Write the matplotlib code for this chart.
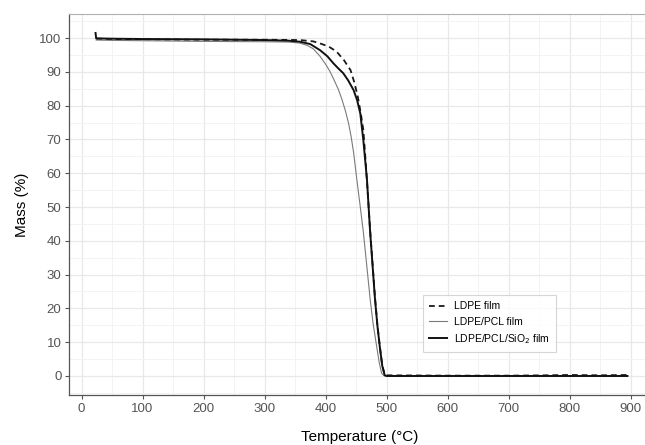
import numpy as np
import matplotlib
matplotlib.use("Agg")
import matplotlib.pyplot as plt
from matplotlib.ticker import MultipleLocator

plt.rcParams['font.family'] = ['Liberation Sans', 'DejaVu Sans']

# TGA curves: temperature (°C) vs residual mass (%)
ldpe_T = [24, 50, 100, 200, 300, 358, 380, 391, 405, 418, 430, 441, 447, 453,
          458, 462, 466, 470, 473, 477, 481, 485, 489, 493, 497, 500, 600, 700,
          760, 800, 850, 895]
ldpe_M = [99.8, 99.7, 99.6, 99.5, 99.5, 99.4, 99.0, 98.4, 97.5, 96.0, 93.5, 90.5,
          87.0, 82.6, 77.5, 72.8, 63.0, 52.0, 43.5, 33.5, 23.5, 15.2, 8.8, 3.2,
          0.4, 0.2, 0.1, 0.1, 0.2, 0.3, 0.2, 0.3]

pcl_T = [24, 50, 100, 200, 300, 340, 358, 370, 380, 391, 400, 407, 414, 421,
         427, 433, 438, 442, 446, 451, 457, 462, 468, 473, 478, 484, 488, 492,
         496, 500, 600, 700, 800, 895]
pcl_M = [99.4, 99.3, 99.2, 99.0, 98.9, 98.8, 98.5, 97.8, 96.8, 94.6, 92.3, 90.2,
         87.6, 84.8, 81.8, 78.2, 74.6, 70.8, 66.2, 58.6, 50.0, 42.6, 32.0, 23.0,
         15.5, 8.6, 4.0, 0.8, 0.1, 0.0, 0.0, 0.0, 0.0, 0.0]

sio2_T = [23, 24, 50, 100, 200, 300, 340, 358, 375, 391, 403, 413, 421, 429,
          437, 446, 452, 457, 462, 468, 473, 477, 481, 485, 489, 493, 497, 500,
          600, 700, 800, 895]
sio2_M = [101.5, 99.9, 99.8, 99.7, 99.6, 99.4, 99.2, 98.9, 98.2, 96.4, 94.6, 92.5,
          91.0, 89.6, 87.5, 84.6, 81.5, 77.7, 69.8, 58.0, 43.0, 33.0, 23.0, 15.0,
          8.6, 3.0, 0.2, 0.0, 0.0, 0.0, 0.0, 0.0]

x_ticks = [0, 100, 200, 300, 400, 500, 600, 700, 800, 900]
y_ticks = [0, 10, 20, 30, 40, 50, 60, 70, 80, 90, 100]

fig = plt.figure(figsize=(6.45, 4.45), dpi=100)
ax = fig.add_axes([0.107, 0.1124, 0.9008, 0.8561])

ax.set_xlim(-20.5, 932)
ax.set_ylim(-5.62, 107.1)

ax.xaxis.set_minor_locator(MultipleLocator(50))
ax.yaxis.set_minor_locator(MultipleLocator(5))
ax.set_xticks(x_ticks)
ax.set_yticks(y_ticks)
ax.grid(which='major', color='#e8e8e8', lw=0.9)
ax.grid(which='minor', color='#f3f3f3', lw=0.7)
ax.set_axisbelow(True)

ax.plot(ldpe_T, ldpe_M, color='#1a1a1a', lw=1.3, ls=(0, (3.2, 2.2)),
        label='LDPE film', zorder=3)
ax.plot(pcl_T, pcl_M, color='#7a7a7a', lw=0.8, label='LDPE/PCL film', zorder=3)
ax.plot(sio2_T, sio2_M, color='#111111', lw=1.4,
        label='LDPE/PCL/SiO$_2$ film', zorder=4)

ax.spines['right'].set_visible(False)
ax.spines['top'].set_color('#b0b0b0')
ax.spines['left'].set_color('#555555')
ax.spines['bottom'].set_color('#555555')
ax.spines['left'].set_linewidth(0.9)
ax.spines['bottom'].set_linewidth(0.9)

ax.tick_params(which='major', direction='out', length=3, width=0.8,
               color='#555555', labelcolor='#555555', labelsize=9.5, pad=2.5)
ax.tick_params(which='minor', length=0)

ax.set_xlabel('Temperature (°C)', fontsize=11, labelpad=11)
ax.set_ylabel('Mass (%)', fontsize=11, labelpad=7)

leg = ax.legend(loc='lower left', bbox_to_anchor=(0.609, 0.113),
                borderaxespad=0, frameon=True, fancybox=False,
                handlelength=1.75, handletextpad=0.65, labelspacing=0.5,
                borderpad=0.6, prop={'family': ['Liberation Sans'], 'size': 7.5})
leg.get_frame().set_edgecolor('#cccccc')
leg.get_frame().set_linewidth(0.8)

fig.savefig('out.png', dpi=100)
